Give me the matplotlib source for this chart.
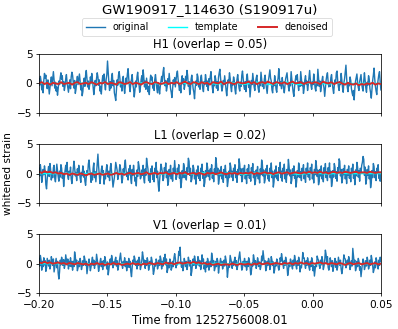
import numpy as np
import matplotlib
matplotlib.use("Agg")
import matplotlib.pyplot as plt

# whitened strain, 0.5 ms samples from -0.20 s
h1_orig = [
    0.8, -0.3, 1.2, 0.4, -1.1, -0.2, -1.6, 0.5, 1.7, 0.9, 1.4, -0.1, -0.9, 0.6, -0.5, -1.8, -0.7, 0.3, 1.1, -0.4, 0.9, 2.0, 0.6, -0.8, 0.2,
    -1.3, -0.6, -2.0, -0.9, 0.4, -0.2, 1.0, 1.8, 0.7, 1.3, -0.5, 0.3, -1.2, -0.4, 0.8, 1.5, 0.1, -0.7, -1.5, -0.3, 0.6, -0.9, 1.1, 1.9, 1.4,
    0.2, -0.8, 0.5, -1.7, -1.0, 0.3, 1.2, -0.2, 0.7, 1.6, 0.4, -1.1, -0.3, -2.1, -1.4, 0.1, 0.9, -0.5, 1.4, 2.2, 0.8, -0.6, 0.4, -1.0, -0.2,
    1.1, 0.3, 1.7, 0.6, -0.7, -1.9, -0.8, 0.5, -0.4, 0.9, 1.8, 1.1, -0.3, 0.6, -1.3, -0.5, -1.8, 0.2, 1.3, 0.4, 1.6, -0.2, -1.1, 0.7, 1.5,
    3.8, 1.9, 0.1, -1.2, 0.3, -0.8, 1.0, 1.7, -0.4, 0.5, -1.6, -2.2, -2.9, -1.0, 0.6, -0.3, 1.4, 2.0, 0.9, -0.6, 0.2, -1.3, 0.8, 1.2, -0.5,
    -1.7, -0.4, 0.9, 0.2, 1.6, 2.5, 0.8, -0.5, -1.4, 0.1, 0.7, 1.5, -0.2, -0.9, -2.3, -1.2, 0.4, -0.6, 1.1, 1.9, 0.5, -0.3, -1.5, -0.7, 0.6,
    1.3, 0.2, 2.3, 1.0, -0.6, 0.4, -1.0, 0.9, -0.2, -1.4, -0.5, -1.9, 0.3, 1.4, 0.6, 1.1, -0.8, -0.1, -1.2, 0.7, 1.5, 0.2, -0.9, -1.6, 0.1,
    -0.7, -1.8, -0.5, 0.4, 1.2, 0.3, 1.9, 2.7, 0.9, -0.4, 0.5, -1.3, -0.6, 0.8, 0.1, 1.7, 0.4, -0.9, -1.5, -2.4, -0.8, 0.6, -0.2, 1.0, -0.6,
    0.5, 1.6, 2.1, 0.7, -0.3, -1.2, -0.4, -1.6, 0.6, 1.3, -0.1, 0.8, -1.0, -0.3, 1.2, 0.5, 2.2, 1.3, -0.5, 0.3, -1.9, -1.1, 0.7, 1.4, 0.2,
    -0.9, -1.5, -2.6, -0.7, 0.4, -0.3, 1.6, 1.1, -0.6, 0.2, -1.0, 0.9, 1.4, 0.0, -0.8, -1.4, 0.3, -0.2, 1.5, 0.6, -0.5, 0.4, -1.2, 0.8, 0.1,
    1.2, 2.0, 0.4, -0.7, -1.6, 0.2, -0.4, 1.3, 0.7, -0.8, 0.3, -1.2, 1.0, 1.8, 2.4, 0.9, -0.3, -1.3, -0.6, 0.5, -0.2, 1.3, 0.1, -1.1, -2.1,
    -0.8, 0.6, 0.1, 1.8, 0.9, -0.6, -1.4, 0.2, -0.3, 1.1, 0.5, -1.0, -1.8, -0.4, 0.7, 1.5, 0.3, -0.8, -1.3, 0.2, -0.5, 1.4, 2.1, 0.8, -0.4,
    -1.0, 0.3, -1.4, 0.9, 1.6, 0.2, -0.7, 0.4, -2.3, -0.9, 0.5, -0.2, 1.7, 0.6, -0.6, -1.2, 0.1, 0.9, 1.4, -0.1, -0.9, -1.5, 0.2, -0.4, 1.9,
    0.7, -0.5, 0.2, -0.9, 0.8, 1.4, 0.1, -0.8, -1.7, -0.3, 0.6, 1.5, 2.3, 0.9, 0.4, -1.1, -1.6, 0.1, -0.4, 1.3, 0.3, -1.0, -1.5, 0.2, 0.9,
    2.5, 0.8, -0.4, 0.3, -0.9, 1.0, -0.1, -0.7, -1.6, -0.3, 0.8, 1.3, 1.8, 0.4, -0.6, -1.3, 0.1, -0.4, 2.0, 0.7, -0.5, -1.5, -2.2, -0.6, 0.5,
    1.3, 0.6, 1.5, -0.2, -1.2, 0.3, -0.5, 2.0, 0.8, -0.4, 0.2, -1.7, -0.9, 0.6, 1.3, -0.1, 0.4, -1.2, -0.3, 0.9, 2.2, 0.7, -0.4, -1.0, 0.3,
    -0.2, 1.6, 0.5, -0.8, -1.3, 0.2, -0.4, 2.4, 1.0, -0.5, 0.4, -1.4, -0.7, 0.5, 1.2, -0.1, -0.8, -2.2, -0.9, 0.5, 1.3, 1.8, 0.3, -0.6, 0.1,
    -0.5, 1.0, 1.5, 0.1, -0.9, -1.7, -0.4, 0.6, 0.2, 1.8, 2.1, 0.4, -0.6, -1.2, 0.3, -0.2, 1.7, 0.6, -0.7, -1.5, 0.1, 0.8, 2.0, 3.1, 0.9,
    -0.7, -1.4, 0.1, -0.4, 1.1, 0.5, -0.9, -1.6, -2.1, -1.2, -2.8, -0.9, 0.4, 1.0, 1.6, 0.2, -0.7, -1.2, 0.3, 0.9, 1.5, -0.1, -0.8, -1.3, 0.5,
    1.8, 0.4, -0.8, -1.5, 0.2, -0.3, 1.3, 0.7, -0.9, -1.6, -2.5, -0.9, 0.5, 1.4, 2.6, 0.8, -0.5, -1.3, -1.9, -0.2, 0.7, 1.5, 2.0, 0.3, -1.1,
]
l1_orig = [
    0.9, -0.4, 1.5, 0.3, -1.5, -0.6, 0.7, -0.2, 1.3, 0.4, -1.9, -2.6, -0.9, 0.3, 1.2, -0.5, 1.7, 0.6, -1.1, 0.2, -0.7, 1.0, 1.4, -0.8, -1.4,
    0.2, 1.6, 0.5, -0.5, -1.3, 0.4, -0.6, 1.5, 0.9, -0.8, 0.1, -2.2, -0.7, 0.5, 1.4, 0.3, 1.9, -0.5, -1.0, 0.4, -0.3, 1.1, -0.9, -1.7, -0.4,
    0.7, 2.1, 1.0, -0.4, 0.2, -1.2, 0.8, -0.3, 1.4, 0.5, -0.7, -1.5, 0.2, -0.3, 1.3, -0.6, 0.4, -1.3, -2.0, -0.6, 0.5, -0.2, 1.6, 2.3, 0.8,
    -0.2, -1.5, 0.1, -1.1, 0.9, 1.8, -0.7, 0.3, -1.4, 0.2, 1.8, 3.3, 1.2, -0.2, -1.7, -0.6, 0.7, 1.3, -0.1, 0.5, -1.8, -0.4, -0.9, 0.6, 1.5,
    0.3, -0.6, 0.4, -1.2, 1.0, 1.7, 0.2, -0.8, -2.3, -1.5, -0.7, 0.5, 1.9, 1.2, 0.6, -1.0, -0.4, 0.3, 1.5, 0.9, -0.1, -1.6, -0.9, 0.8, -0.2,
    1.5, 2.3, 0.6, -0.5, 0.2, -1.1, 0.8, -0.2, 1.4, -0.9, -1.7, 0.7, -0.3, 1.4, 0.2, -1.3, -0.7, -2.1, 0.6, -0.5, 2.0, 1.3, 0.4, -0.9, -0.6,
    0.6, -0.3, 1.4, -0.9, -1.6, 0.8, -0.3, 2.6, 1.6, 0.8, -1.2, -0.4, -1.5, 0.8, 0.1, 1.3, -1.0, -0.1, -1.4, 0.9, 0.2, 1.9, -0.7, 0.4, -1.8,
    -3.0, -1.2, 0.2, 1.6, 1.0, 0.2, -1.2, -0.8, 1.0, 0.2, 1.8, -0.7, 0.4, -2.0, -1.4, 0.7, -0.4, 1.4, -0.9, 0.1, -1.3, 0.9, 0.1, 2.2, 0.6,
    -1.0, -0.5, 0.9, 0.2, 1.5, -0.8, 0.2, -2.4, -1.5, 0.5, -0.7, 1.7, 1.2, -0.7, 0.3, -1.1, 1.0, 0.2, 2.6, 2.1, -0.3, 0.9, -1.4, -1.0, 0.0,
    1.4, 0.8, -0.9, 0.1, -1.8, 0.6, -0.4, 1.3, -0.8, 0.1, -1.2, 0.9, 0.1, 1.6, -0.8, 0.3, -2.2, -1.5, 0.5, -0.6, 1.8, 1.1, -0.5, 0.5, -1.1,
    0.8, 0.1, 1.5, -0.8, 0.2, -1.4, 0.8, -0.1, 2.7, 1.7, -0.2, 0.9, -1.8, -1.0, 0.6, -0.4, 1.2, -0.9, 0.0, -1.5, 0.7, -0.2, 1.4, -0.7, 0.2,
    -2.2, -1.3, 0.4, -0.7, 1.8, 1.1, -0.6, 0.4, -1.2, 0.9, 0.0, 1.5, -0.7, 0.3, -1.5, 0.7, -0.2, 2.5, 1.6, -0.3, 0.8, -1.4, -1.0, 0.9, 0.0,
    1.4, -0.9, 0.1, -1.7, 0.8, -0.3, 1.5, -0.8, 0.2, -1.3, 1.0, 0.1, 1.7, -0.7, 0.3, -1.9, -1.3, 0.6, -0.4, 1.2, -0.9, 0.0, -1.6, 0.8, -0.2,
    2.3, 1.6, -0.4, 0.6, -1.6, -1.1, 0.8, -0.2, 1.4, -0.9, 0.1, -1.3, 0.9, 0.0, 1.8, -0.7, 0.4, -2.3, -1.4, 0.6, -0.6, 1.3, -0.9, 0.1, -1.2,
    1.0, 0.2, 1.9, -0.7, 0.4, -1.3, 0.9, 0.0, 1.6, -0.9, 0.2, -1.5, 0.7, -0.2, 2.4, 1.2, -0.4, 0.6, -1.7, -1.1, 0.8, -0.3, 1.3, -0.8, 0.1,
    -2.3, -1.4, 0.5, -0.6, 1.8, 1.2, -0.7, 0.3, -1.2, 0.9, 0.1, 1.5, -0.9, 0.2, -1.5, 0.9, -0.1, 1.8, -0.6, 0.4, -1.1, 1.0, 0.2, 1.6, -0.9,
    0.2, -1.6, 0.7, -0.2, 2.2, 1.3, -0.5, 0.6, -1.9, -1.3, 0.7, -0.4, 1.3, -0.9, 0.1, -1.4, 1.0, 0.0, 1.7, -0.7, 0.3, -1.2, 1.0, 0.1, 1.8,
    -0.7, 0.4, -2.2, -1.4, 0.5, -0.6, 1.7, 1.1, -0.8, 0.3, -1.3, 1.0, 0.1, 2.5, 2.1, -0.4, 0.7, -1.6, -1.0, 0.8, -0.2, 1.4, -0.9, 0.1, -1.7,
    0.7, -0.3, 1.3, -0.8, 0.1, -1.4, 0.9, 0.0, 1.6, -0.8, 0.3, -1.9, 0.6, -0.4, 1.9, 1.1, -0.6, 0.5, -1.3, 0.9, 0.0, 1.4, 1.9, 2.9, 2.4,
    -0.3, 1.1, -1.8, -1.1, 0.7, -0.3, 1.3, -0.9, 0.1, -2.4, -1.5, 0.5, -0.7, 1.7, 1.2, -0.7, 0.3, -1.2, 0.9, 0.1, 1.5, -0.8, 0.2, -1.3, 0.2,
]
v1_orig = [
    0.9, -0.4, 1.4, 0.6, -1.1, 0.4, -0.5, 1.0, -0.2, 0.5, -1.3, -0.7, 0.9, 0.2, -0.4, 0.6, -0.9, -0.3, 1.2, 0.6, -0.3, 0.8, -1.4, -0.6, 0.3,
    0.9, -0.7, 0.4, -1.6, -2.6, -1.4, 0.6, -0.2, 1.1, 0.5, -0.3, 0.7, -0.8, -0.2, 1.5, 0.7, -0.2, 0.8, -0.9, 0.4, -0.4, 1.0, -0.5, 0.4, -1.1,
    0.4, -0.5, 2.0, 1.2, 0.0, 0.6, -1.2, -0.7, 0.4, -0.5, 0.9, 0.3, -1.0, -0.4, 0.5, -0.3, 1.3, 0.7, -0.3, 0.4, -1.7, -0.8, 0.2, 0.8, -0.3,
    -1.2, -0.5, 0.4, 1.1, -0.3, 0.6, -0.8, 0.3, -0.2, 1.6, 0.8, -0.1, -1.3, -0.6, 0.3, 0.9, -0.5, 0.4, -1.0, 0.5, -0.4, 1.2, 0.6, -0.2, -0.9,
    0.3, -1.9, -1.0, 0.1, 0.8, -0.2, 1.4, 0.7, -0.7, 0.3, -0.2, 0.6, 1.1, -0.4, 0.5, -1.1, -0.5, 0.3, 1.0, 1.8, 0.5, -0.1, -0.8, 0.4, -0.3,
    1.0, -0.5, 0.4, -1.2, 0.3, -0.6, 0.9, -0.6, 0.4, -1.4, -2.2, -0.6, 0.6, 0.0, 1.3, 0.8, -0.3, 0.4, -0.9, 0.6, -0.3, 1.1, 0.5, -1.0, -0.4,
    0.5, 2.0, 1.2, -0.1, 0.6, -0.8, 0.5, -0.3, 1.0, 0.4, -1.1, -0.5, 0.4, -0.2, 1.1, 0.5, -0.4, -1.8, -1.2, 0.1, -0.4, 0.8, 0.4, -0.9, -0.4,
    0.6, -0.3, 1.3, 0.7, -0.9, 0.4, -0.4, 1.0, 0.4, 1.6, -0.2, 0.8, -1.5, -0.9, 0.2, -0.7, 0.8, 0.3, -1.1, -0.6, 0.4, -0.5, 1.0, 1.7, 0.9,
    -0.7, 0.1, -0.2, 0.6, 2.1, 1.4, 2.8, 0.2, -0.6, 0.3, -1.2, -0.5, 0.9, 0.3, -0.5, 0.4, -1.0, -0.4, 1.1, 0.5, -0.4, 0.5, -2.0, -1.3, 0.0,
    0.8, -0.3, 1.3, 0.6, -0.8, 0.3, -0.2, 1.2, 0.7, -0.4, 0.5, -1.0, -0.4, 1.5, 0.4, 0.8, -0.9, -0.2, -1.4, 0.3, -0.6, 0.9, 0.4, -1.1, -0.5,
    0.4, -0.5, 1.8, 1.0, -0.1, 0.5, -1.2, -0.7, 0.4, -0.5, 0.9, 0.4, -1.6, -0.6, 0.2, 0.9, -0.3, 0.4, -0.9, -0.3, 0.6, -0.4, 1.3, 0.6, -0.3,
    -2.3, -1.0, 0.0, -0.6, 1.4, 0.8, 0.2, -0.8, 0.3, -0.3, 0.5, 1.1, -0.4, 0.5, -1.0, -0.4, 0.5, 1.2, 2.0, 0.6, 0.0, -1.1, -0.7, 0.4, -0.2,
    0.9, -0.5, 0.4, -1.1, 0.4, -0.5, 1.0, 0.5, -0.4, -1.9, -1.3, 0.1, -0.4, 1.5, 0.8, -0.2, 0.5, -0.8, -0.3, 1.0, 0.4, -0.5, 0.3, -1.0, -0.4,
    1.3, 0.5, 2.2, 1.1, 0.0, 0.5, -1.2, -0.7, 0.4, -0.3, 0.9, 0.4, -1.0, -0.4, 1.2, 0.6, -0.3, 0.3, -1.6, -1.0, 0.2, -0.4, 0.8, 0.4, -0.5,
    -1.1, -0.5, 1.0, 0.4, 1.7, 0.9, -0.1, -0.8, 0.5, -0.3, 1.1, 0.5, -0.5, -2.0, -1.2, 0.1, -0.5, 0.8, 0.4, -0.4, -0.9, 0.6, -0.3, 1.4, 0.7,
    -0.3, -0.9, 0.5, -0.3, 1.1, 0.5, -1.4, -0.4, -0.7, 0.3, 1.9, 0.9, 1.0, -0.1, -0.8, 0.5, -0.3, 1.0, 0.4, -0.6, -1.1, 0.4, -0.5, 1.0, 0.5,
    -1.2, -0.4, -2.1, -1.1, 0.0, -0.5, 1.3, 0.8, 0.6, -0.3, -0.8, 0.6, -0.2, 1.2, 0.6, -1.0, -0.4, 0.5, 2.3, 1.6, 0.1, 1.2, -0.6, -1.1, -0.5,
    1.0, 0.4, -0.5, 0.5, -1.3, -0.6, 0.3, 0.9, -0.6, 0.4, -1.1, -0.5, 1.1, 0.4, -0.3, 0.6, -0.9, -1.7, -0.9, 0.2, 1.5, 0.9, 0.8, -0.7, -0.2,
    0.6, -0.2, 1.2, 0.6, -1.0, -0.4, 0.5, -0.4, 2.6, 1.3, 0.1, 0.6, -1.2, -0.7, 0.4, -0.5, 0.9, 0.4, -1.1, -0.5, -2.2, -1.1, 0.0, 0.8, 0.4,
    -1.0, -0.5, 0.5, -0.4, 1.1, 0.5, -0.9, -0.4, 0.6, -0.3, 1.4, 0.7, -0.3, -1.5, -1.0, 0.3, -0.7, 1.0, 0.5, -0.4, -0.9, 0.6, -0.3, 1.1, 0.4,
]

# denoised output, 2 ms samples
h1_den = [
    0.0, 0.2, -0.1, 0.1, -0.2, 0.1, 0.0, -0.1, 0.2, -0.1, 0.0, 0.1, -0.2, 0.1, 0.2, -0.1, 0.0, 0.1, -0.1, 0.2, 0.0, -0.2, 0.1, 0.0, 0.2,
    -0.1, 0.1, 0.0, -0.2, 0.2, 0.1, -0.1, 0.0, 0.2, -0.1, 0.1, 0.0, -0.2, 0.1, 0.2, 0.0, -0.1, 0.2, 0.1, -0.1, 0.0, 0.2, -0.1, 0.1, 0.0,
    0.2, -0.1, 0.1, 0.3, 0.0, -0.1, 0.2, 0.1, -0.1, 0.2, 0.0, 0.1, -0.2, 0.2, 0.1, 0.0, 0.3, -0.1, 0.1, 0.2, 0.0, -0.1, 0.2, 0.1, 0.0,
    0.1, 0.3, 0.0, 0.2, -0.1, 0.1, 0.2, 0.0, 0.3, 0.1, -0.1, 0.2, 0.1, 0.0, 0.2, -0.1, 0.1, 0.3, 0.0, 0.1, 0.2, -0.1, 0.1, 0.2, 0.0,
    0.2, 0.1, -0.1, 0.3, 0.1, 0.0, 0.2, -0.1, 0.1, 0.2, 0.0, -0.2, 0.1, -0.1, -0.2, 0.0, -0.3, -0.1, -0.2, 0.0, -0.1, 0.1, -0.2, 0.0, -0.1,
]
l1_den = [
    0.3, 0.1, 0.4, 0.2, 0.3, 0.1, 0.2, 0.0, 0.1, -0.1, 0.0, -0.2, 0.0, -0.1, -0.2, 0.0, -0.1, -0.3, -0.1, 0.0, -0.2, -0.1, 0.0, -0.2, -0.1,
    0.0, -0.2, -0.1, 0.1, -0.1, 0.0, -0.2, 0.0, 0.1, -0.1, 0.0, 0.1, -0.1, 0.0, 0.2, -0.1, 0.0, 0.1, -0.1, 0.1, 0.0, 0.2, -0.1, 0.0, 0.1,
    -0.1, 0.1, 0.0, 0.2, -0.1, 0.0, 0.1, -0.1, 0.1, 0.0, -0.2, 0.1, 0.0, 0.1, -0.1, 0.0, 0.2, 0.0, -0.1, 0.1, 0.0, 0.1, -0.1, 0.1, 0.0,
    0.1, 0.0, 0.2, -0.1, 0.1, 0.0, 0.1, 0.2, 0.0, 0.1, -0.1, 0.1, 0.2, 0.0, 0.1, 0.2, 0.0, 0.1, 0.2, 0.1, 0.0, 0.2, 0.1, 0.3, 0.1,
    0.2, 0.1, 0.3, 0.1, 0.2, 0.0, 0.2, 0.3, 0.1, 0.2, 0.1, 0.3, 0.2, 0.1, 0.2, 0.3, 0.1, 0.2, 0.2, 0.1, 0.3, 0.2, 0.1, 0.2, 0.2,
]
v1_den = [
    0.2, 0.1, 0.3, 0.1, 0.2, 0.0, 0.1, 0.2, 0.0, 0.1, -0.1, 0.1, 0.0, -0.1, 0.1, 0.0, -0.1, 0.0, -0.2, 0.0, -0.1, 0.1, -0.1, 0.0, -0.2,
    0.0, -0.1, 0.1, -0.1, 0.0, -0.2, -0.1, 0.0, -0.1, 0.1, -0.1, 0.0, -0.2, 0.0, -0.1, 0.1, 0.0, -0.1, 0.1, 0.0, -0.1, 0.2, 0.0, 0.1, -0.1,
    0.1, 0.2, 0.0, 0.1, 0.2, 0.1, 0.3, 0.1, 0.2, 0.0, 0.1, -0.1, 0.0, -0.2, -0.1, 0.0, -0.2, -0.1, -0.1, -0.2, 0.0, -0.1, -0.2, 0.0, -0.1,
    -0.1, 0.0, -0.2, 0.0, -0.1, 0.1, -0.1, 0.0, 0.1, -0.1, 0.0, 0.1, 0.0, -0.1, 0.1, 0.0, 0.1, -0.1, 0.1, 0.0, 0.2, 0.0, 0.1, -0.1, 0.1,
    0.0, 0.1, 0.2, 0.0, 0.1, -0.1, 0.1, 0.0, -0.1, 0.1, 0.0, -0.2, 0.0, 0.1, -0.1, 0.0, 0.1, -0.1, 0.0, 0.1, -0.1, 0.0, 0.1, -0.1, 0.0,
]

# template, 10 ms samples
h1_tmpl = [0.0, 0.02, -0.03, 0.04, -0.02, 0.05, -0.06, 0.04, 0.08, -0.1, 0.12, -0.08, 0.15,
           -0.12, 0.18, -0.16, 0.2, -0.22, 0.25, -0.2, 0.16, -0.1, 0.05, -0.02, 0.01, 0.0]
l1_tmpl = [0.0, -0.02, 0.03, -0.03, 0.04, -0.05, 0.05, -0.06, 0.08, -0.09, 0.1, -0.12, 0.13,
           -0.15, 0.16, -0.18, 0.2, -0.2, 0.18, -0.15, 0.1, -0.06, 0.03, -0.01, 0.0, 0.0]
v1_tmpl = [0.0, 0.01, -0.01, 0.02, -0.02, 0.02, -0.03, 0.03, -0.04, 0.04, -0.05, 0.05, -0.06,
           0.06, -0.07, 0.07, -0.08, 0.07, -0.06, 0.05, -0.03, 0.02, -0.01, 0.0, 0.0, 0.0]

detectors = ["H1", "L1", "V1"]
overlaps = [0.05, 0.02, 0.01]
originals = [h1_orig, l1_orig, v1_orig]
denoised = [h1_den, l1_den, v1_den]
templates = [h1_tmpl, l1_tmpl, v1_tmpl]

t_start, t_end = -0.20, 0.05

fig, axes = plt.subplots(3, 1, figsize=(3.98, 3.29), dpi=100, sharex=True)
fig.subplots_adjust(left=0.098, right=0.957, top=0.836, bottom=0.109, hspace=0.53)

for ax, det, ov, orig, den, tmpl in zip(axes, detectors, overlaps, originals, denoised, templates):
    t_o = np.linspace(t_start, t_end, len(orig))
    t_d = np.linspace(t_start, t_end, len(den))
    t_t = np.linspace(t_start, t_end, len(tmpl))
    ax.plot(t_o, orig, color="tab:blue", lw=1.0, label="original")
    ax.plot(t_t, tmpl, color="cyan", lw=1.0, label="template")
    ax.plot(t_d, den, color="tab:red", lw=1.4, label="denoised")
    ax.set_xlim(t_start, t_end)
    ax.set_ylim(-5, 5)
    ax.set_yticks([-5, 0, 5])
    ax.set_title(f"{det} (overlap = {ov:.2f})", fontsize=8.3, pad=4)
    ax.tick_params(labelsize=7.6, length=2.4, width=0.55, pad=2.4)
    for sp in ax.spines.values():
        sp.set_linewidth(0.55)

axes[-1].set_xticks([-0.20, -0.15, -0.10, -0.05, 0.00, 0.05])
axes[-1].set_xticklabels(["−0.20", "−0.15", "−0.10", "−0.05", "0.00", "0.05"])
axes[-1].set_xlabel("Time from 1252756008.01", fontsize=8.4, labelpad=2.8)
axes[1].set_ylabel("whitened strain", fontsize=7.6, labelpad=2.8)

handles, labels = axes[0].get_legend_handles_labels()
leg = fig.legend(handles, labels, loc="center", bbox_to_anchor=(0.52, 0.918), ncol=3,
                 fontsize=6.9)
leg.get_frame().set_linewidth(0.55)
fig.suptitle("GW190917_114630 (S190917u)", x=0.528, y=0.99, fontsize=9.6)

fig.savefig("out.png", dpi=100)
